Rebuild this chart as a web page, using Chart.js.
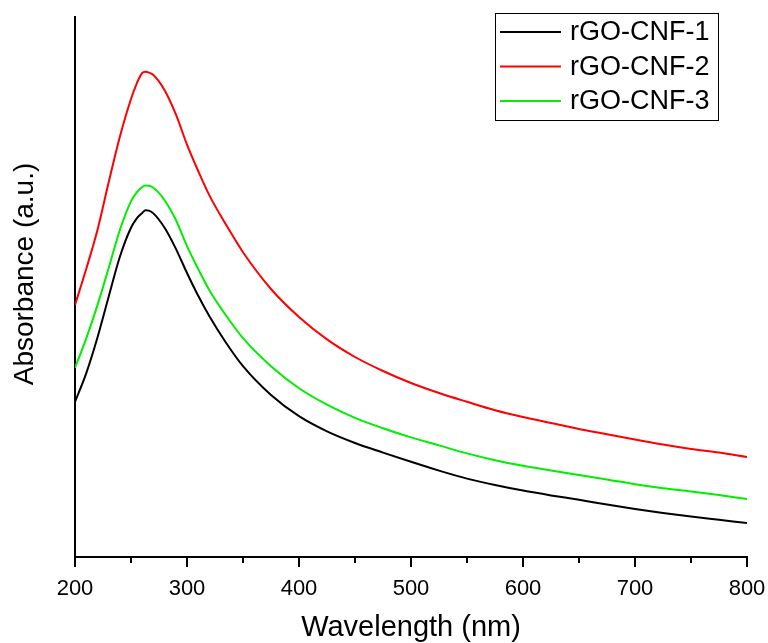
<!DOCTYPE html>
<html>
<head>
<meta charset="utf-8">
<script src="https://cdn.jsdelivr.net/npm/chart.js@4"></script>
<style>
  html, body { margin: 0; padding: 0; background: #fff; }
  #wrap { width: 768px; height: 643px; }
</style>
</head>
<body>
<div id="wrap"><canvas id="chart" width="768" height="643"></canvas></div>
<script>
// wavelength (nm)
const wavelengths = [200, 210, 220, 230, 240, 250, 255, 260, 263, 266, 270, 280, 290, 300, 310, 320, 335, 350, 375, 400,
  425, 450, 475, 500, 525, 550, 575, 600, 625, 650, 675, 700, 725, 750, 775, 800];

// absorbance (a.u.)
const cnf1 = [0.388, 0.459, 0.548, 0.650, 0.750, 0.823, 0.846, 0.860, 0.867, 0.866, 0.859, 0.823, 0.771, 0.710, 0.653, 0.602, 0.535, 0.477, 0.405, 0.352,
  0.314, 0.285, 0.261, 0.238, 0.216, 0.196, 0.180, 0.166, 0.154, 0.143, 0.131, 0.120, 0.110, 0.101, 0.093, 0.085];
const cnf2 = [0.630, 0.720, 0.817, 0.936, 1.050, 1.145, 1.183, 1.210, 1.213, 1.211, 1.205, 1.167, 1.107, 1.031, 0.965, 0.904, 0.830, 0.762, 0.670, 0.600,
  0.544, 0.500, 0.465, 0.435, 0.410, 0.388, 0.367, 0.350, 0.335, 0.320, 0.307, 0.294, 0.281, 0.270, 0.261, 0.250];
const cnf3 = [0.473, 0.546, 0.629, 0.722, 0.817, 0.889, 0.911, 0.925, 0.929, 0.928, 0.923, 0.892, 0.843, 0.777, 0.720, 0.667, 0.603, 0.547, 0.477, 0.422,
  0.381, 0.348, 0.322, 0.299, 0.279, 0.259, 0.242, 0.228, 0.216, 0.205, 0.194, 0.182, 0.172, 0.164, 0.155, 0.145];

const seriesNames = ['rGO-CNF-1', 'rGO-CNF-2', 'rGO-CNF-3'];
const seriesColors = ['#000000', '#ff0000', '#00ee00'];
const minorTicks = [250, 350, 450, 550, 650, 750];

const FONT = '"Liberation Sans", Arial, sans-serif';

const toPoints = vals => wavelengths.map((w, i) => ({ x: w, y: vals[i] }));

const data = {
    datasets: [cnf1, cnf2, cnf3].map((vals, i) => ({
        label: seriesNames[i],
        data: toPoints(vals),
        borderColor: seriesColors[i],
        borderWidth: 2,
        pointRadius: 0,
        cubicInterpolationMode: 'monotone',
        fill: false
    }))
};

// minor ticks, axis titles and boxed legend
const extras = {
    id: 'extras',
    afterDraw(chart) {
        const ctx = chart.ctx;
        const xs = chart.scales.x;
        const area = chart.chartArea;
        ctx.save();

        // minor ticks
        ctx.strokeStyle = '#000';
        ctx.lineWidth = 2;
        for (const v of minorTicks) {
            const px = Math.round(xs.getPixelForValue(v));
            ctx.beginPath();
            ctx.moveTo(px, area.bottom);
            ctx.lineTo(px, area.bottom + 6);
            ctx.stroke();
        }

        // axis titles
        ctx.fillStyle = '#000';
        ctx.textAlign = 'center';
        ctx.textBaseline = 'middle';
        ctx.font = '29px ' + FONT;
        ctx.fillText('Wavelength (nm)', (area.left + area.right) / 2, 628);
        ctx.save();
        ctx.translate(25, 274);
        ctx.rotate(-Math.PI / 2);
        ctx.font = '28px ' + FONT;
        ctx.fillText('Absorbance (a.u.)', 0, 0);
        ctx.restore();

        // legend
        ctx.lineWidth = 1;
        ctx.strokeStyle = '#000';
        ctx.strokeRect(495.5, 13.5, 223, 107);
        ctx.font = '27px ' + FONT;
        ctx.textAlign = 'left';
        chart.data.datasets.forEach((ds, i) => {
            const y = 32 + i * 34.5;
            ctx.strokeStyle = ds.borderColor;
            ctx.lineWidth = 2;
            ctx.beginPath();
            ctx.moveTo(500, y);
            ctx.lineTo(561, y);
            ctx.stroke();
            ctx.fillStyle = '#000';
            ctx.fillText(ds.label, 570, y + 1);
        });
        ctx.restore();
    }
};

const config = {
    type: 'line',
    data: data,
    plugins: [extras],
    options: {
        responsive: false,
        animation: false,
        layout: {
            padding: { top: 17, right: 21, left: 0, bottom: 0 }
        },
        plugins: {
            legend: { display: false },
            tooltip: { enabled: false }
        },
        scales: {
            x: {
                type: 'linear',
                min: 200,
                max: 800,
                afterFit: s => { s.height = 86; s.paddingRight = 0; },
                border: { display: true, color: '#000', width: 2 },
                grid: {
                    display: true,
                    drawOnChartArea: false,
                    drawTicks: true,
                    tickLength: 10,
                    color: '#000',
                    lineWidth: 2
                },
                ticks: {
                    stepSize: 100,
                    padding: 4,
                    color: '#000',
                    maxRotation: 0,
                    font: { family: FONT, size: 22, lineHeight: 1.6 }
                }
            },
            y: {
                type: 'linear',
                min: 0,
                max: 1.35,
                afterFit: s => { s.width = 75; },
                border: { display: true, color: '#000', width: 2 },
                grid: { display: false },
                ticks: { display: false }
            }
        }
    }
};

var chart = new Chart(document.getElementById('chart'), config);
</script>
</body>
</html>
